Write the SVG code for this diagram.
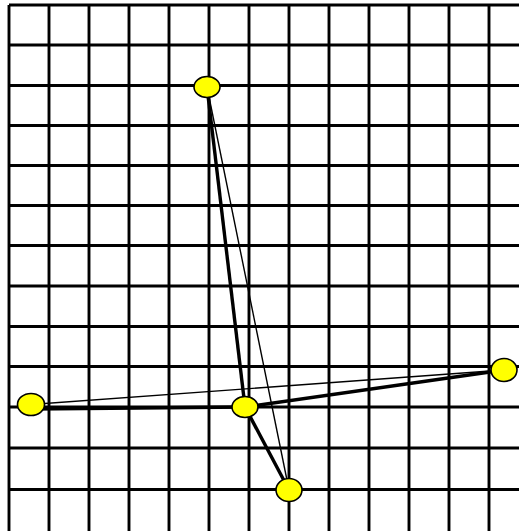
<svg xmlns="http://www.w3.org/2000/svg" width="519" height="531" viewBox="0 0 519 531">
<style>
.g{stroke:#000;stroke-width:2.9;fill:none}
.thin{stroke:#000;stroke-width:1.4;fill:none}
.thick{stroke:#000;stroke-width:3.4;fill:none}
.n{fill:#ffff00;stroke:#000;stroke-width:1.6}
</style>
<rect width="519" height="531" fill="#fff"/>
<g id="grid">
<path class="g" d="M9,5V531M49,5V531M89,5V531M129,5V531M169,5V531M209,5V531M249,5V531M289,5V531M329,5V531M369,5V531M409,5V531M449,5V531M489,5V531"/>
<path class="g" d="M9,5H519M9,45H519M9,85.5H519M9,125.5H519M9,165.5H519M9,205.5H519M9,245.5H519M9,286H519M9,326.5H519M9,366.5H519M9,407H519M9,448H519M9,489.5H519"/>
</g>
<g id="connectors">
<line class="thin" x1="207" y1="87" x2="289" y2="490"/>
<line class="thin" x1="31" y1="404.5" x2="504" y2="370"/>
<line class="thick" x1="207" y1="87" x2="245" y2="407"/>
<line class="thick" x1="31" y1="409" x2="245" y2="407"/>
<line class="thick" x1="245" y1="407" x2="504" y2="370"/>
<line class="thick" x1="245" y1="407" x2="289" y2="490"/>
</g>
<g id="nodeA"><ellipse class="n" cx="207" cy="87" rx="13" ry="10.5"/></g>
<g id="nodeB"><ellipse class="n" cx="31" cy="404.5" rx="13.5" ry="11"/></g>
<g id="nodeC"><ellipse class="n" cx="245" cy="407" rx="13" ry="10.5"/></g>
<g id="nodeD"><ellipse class="n" cx="289" cy="490" rx="13" ry="11.5"/></g>
<g id="nodeE"><ellipse class="n" cx="504" cy="370" rx="13" ry="11.5"/></g>
</svg>
